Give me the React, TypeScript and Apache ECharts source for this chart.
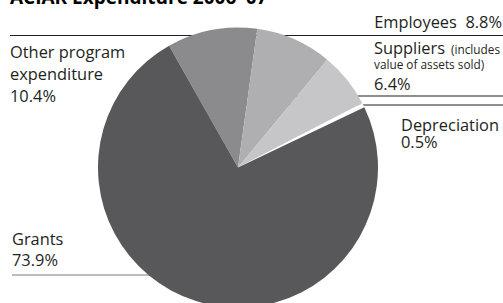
import React, { useEffect, useRef } from "react";
import * as echarts from "echarts";

const title = "ACIAR Expenditure 2006–07";
const categories = ["Other program expenditure", "Employees", "Suppliers", "Depreciation", "Grants"];
const values = [10.4, 8.8, 6.4, 0.5, 73.9];
const colors = ["#8b8b8d", "#afafb1", "#c6c6c8", "#ffffff", "#58585a"];
const percentLabels = values.map((v) => v.toFixed(1) + "%");

export default function App() {
  const ref = useRef<HTMLDivElement>(null);
  useEffect(() => {
    document.body.style.margin = "0";
    const chart = echarts.init(ref.current!, null, { renderer: "svg" });
    const FF = "'Open Sans', sans-serif";
    const INK = "#231f20";
    const t = (text: string, x: number, baseline: number, fs: number, extra: any = {}) => ({
      type: "text",
      z: 100,
      silent: true,
      style: {
        text,
        x,
        y: baseline - 0.37 * fs,
        fontSize: fs,
        lineHeight: Math.round(fs * 0.85),
        fontFamily: FF,
        fill: INK,
        align: "left",
        verticalAlign: "middle",
        ...extra,
      },
    });
    const ln = (x1: number, y1: number, x2: number, y2: number, stroke: string, w = 1.2) => ({
      type: "line",
      z: 0,
      silent: true,
      shape: { x1, y1, x2, y2 },
      style: { stroke, lineWidth: w },
    });
    chart.setOption({
      animation: false,
      backgroundColor: "#ffffff",
      graphic: [
        ln(10, 35.5, 503, 35.5, INK),
        ln(238, 96, 503, 96, INK),
        ln(238, 105, 503, 105, INK),
        ln(12, 275, 238, 275, "#7a7a7a"),
        t(title, 10, 4, 19, { fontWeight: "bold", fill: "#000" }),
        t(categories[1] + "  " + percentLabels[1], 502, 28, 16.4, { align: "right" }),
        t(categories[2], 374, 53.5, 16.4),
        t("(includes", 451, 53.5, 11.8),
        t("value of assets sold)", 374, 68, 11.8),
        t(percentLabels[2], 374, 90, 16.4),
        t(categories[3], 401, 130.5, 16.4),
        t(percentLabels[3], 401, 147.5, 16.4),
        t("Other program", 10, 57.7, 16.4),
        t("expenditure", 10, 79.5, 16.4),
        t(percentLabels[0], 10, 101.5, 16.4),
        t(categories[4], 12, 244.3, 16.4),
        t(percentLabels[4], 12, 265.5, 16.4),
      ],
      series: [
        {
          type: "pie",
          z: 2,
          center: [238, 167.5],
          radius: 140,
          startAngle: 119.5,
          clockwise: true,
          silent: true,
          avoidLabelOverlap: false,
          label: { show: false },
          labelLine: { show: false },
          emphasis: { disabled: true },
          itemStyle: { borderWidth: 0 },
          data: categories.map((name, i) => ({
            name,
            value: values[i],
            itemStyle: { color: colors[i] },
          })),
        },
      ],
    });
    return () => chart.dispose();
  }, []);
  return <div ref={ref} style={{ width: 503, height: 303 }} />;
}
